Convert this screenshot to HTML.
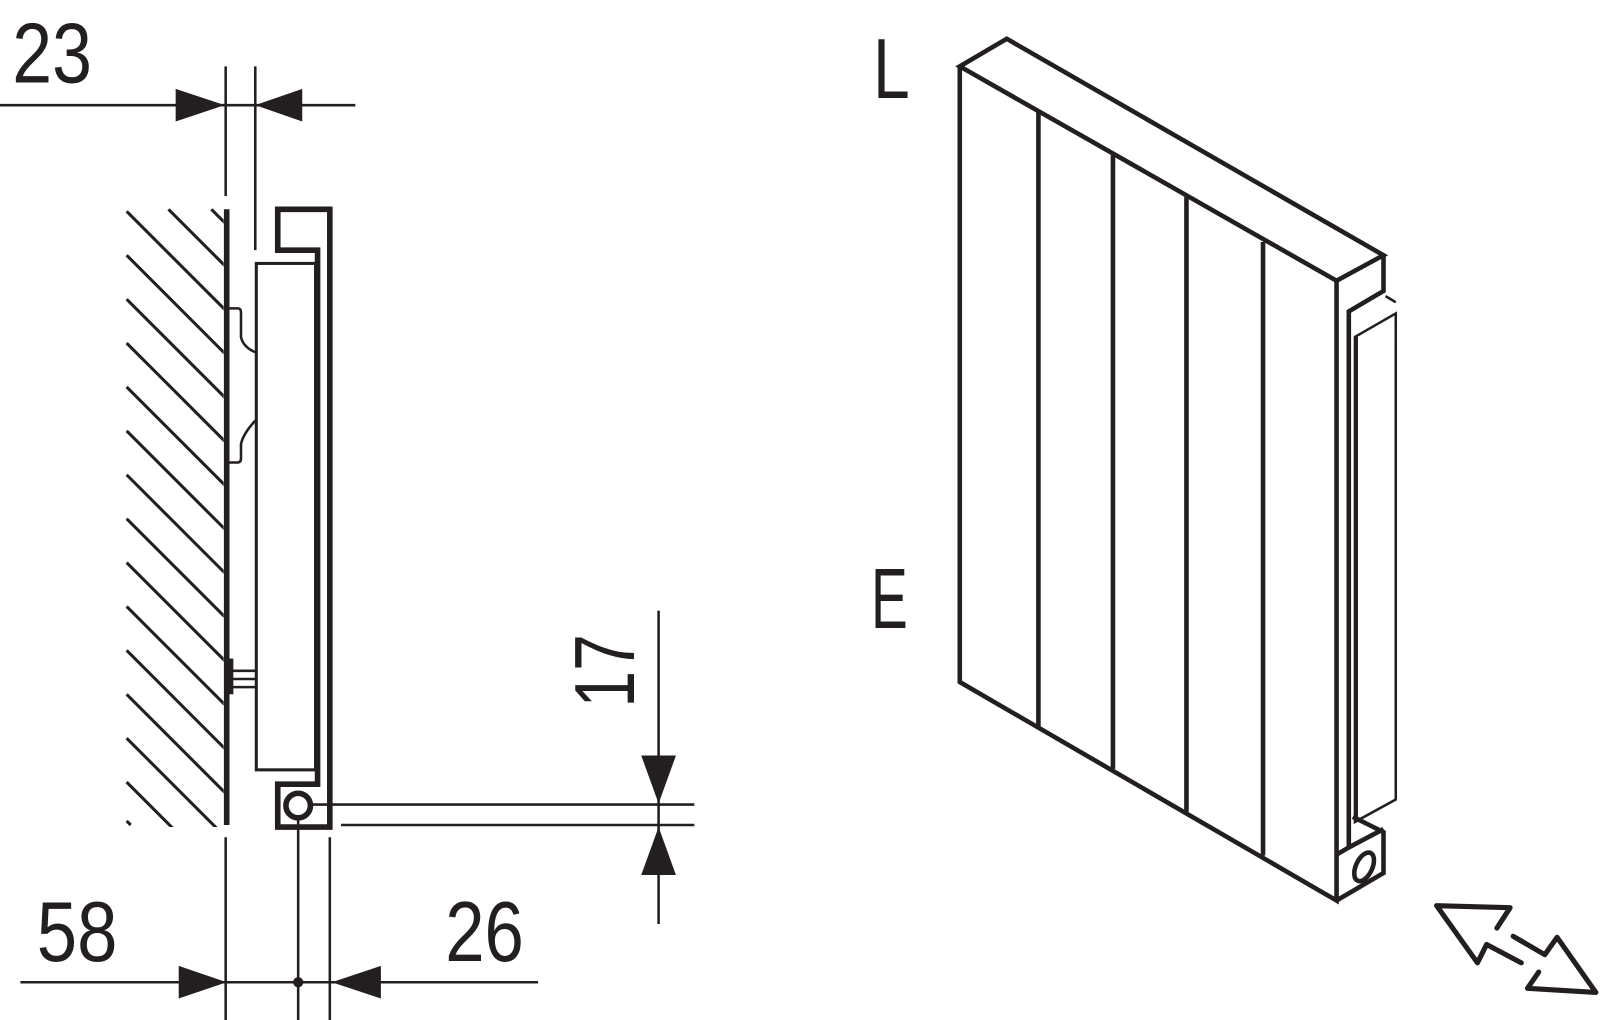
<!DOCTYPE html>
<html><head><style>html,body{margin:0;padding:0;background:#fff}svg{display:block}</style></head>
<body>
<svg width="1600" height="1020" viewBox="0 0 1567 999" xmlns="http://www.w3.org/2000/svg">
<defs><clipPath id="hc"><rect x="120" y="204" width="99" height="606"/></clipPath></defs>
<g fill="none" stroke="#231f20" stroke-linecap="butt" stroke-linejoin="miter">
<g clip-path="url(#hc)" stroke-width="3">
<line x1="124" y1="207" x2="224" y2="307"/><line x1="124" y1="250" x2="224" y2="350"/>
<line x1="124" y1="293" x2="224" y2="393"/><line x1="124" y1="336" x2="224" y2="436"/>
<line x1="124" y1="379" x2="224" y2="479"/><line x1="124" y1="422" x2="224" y2="522"/>
<line x1="124" y1="465" x2="224" y2="565"/><line x1="124" y1="508" x2="224" y2="608"/>
<line x1="124" y1="551" x2="224" y2="651"/><line x1="124" y1="594" x2="224" y2="694"/>
<line x1="124" y1="637" x2="224" y2="737"/><line x1="124" y1="680" x2="224" y2="780"/>
<line x1="124" y1="723" x2="224" y2="823"/><line x1="124" y1="766" x2="224" y2="866"/>
<line x1="165" y1="205" x2="224" y2="264"/><line x1="207" y1="205" x2="224" y2="222"/>
<line x1="124" y1="804" x2="128" y2="808"/>
</g>
<line x1="222" y1="205" x2="222" y2="808" stroke-width="5.5"/>
<line x1="221" y1="65" x2="221" y2="192" stroke-width="2.5"/>
<line x1="250" y1="65" x2="250" y2="245" stroke-width="2.5"/>
<line x1="0" y1="103" x2="348" y2="103" stroke-width="2.5"/>
<path d="M272,205 H323 V810 H272 V768 H311 V245 H272 Z" stroke-width="5.5"/>
<rect x="251" y="258" width="58" height="496" stroke-width="3"/>
<path d="M223,302 H233 Q236,302 236,306 V330 Q238,340 250,345" stroke-width="2.5"/>
<path d="M250,412 Q238,425 236,435 V449 Q236,453 232,453 H223" stroke-width="2.5"/>
<line x1="223" y1="657" x2="250" y2="657" stroke-width="2.5"/>
<line x1="223" y1="665" x2="250" y2="665" stroke-width="2.5"/>
<line x1="223" y1="673" x2="250" y2="673" stroke-width="2.5"/>
<line x1="226" y1="645" x2="226" y2="680" stroke-width="5"/>
<circle cx="292" cy="789" r="12" stroke-width="5.5"/>
<line x1="305" y1="788" x2="680" y2="788" stroke-width="2.5"/>
<line x1="334" y1="808" x2="680" y2="808" stroke-width="2.5"/>
<line x1="221" y1="820" x2="221" y2="999" stroke-width="2.5"/>
<line x1="292" y1="801" x2="292" y2="999" stroke-width="2.5"/>
<line x1="323" y1="820" x2="323" y2="999" stroke-width="2.5"/>
<line x1="20" y1="962" x2="527" y2="962" stroke-width="2.5"/>
<line x1="645" y1="598" x2="645" y2="905" stroke-width="2.5"/>
<g stroke-width="4.5">
<path d="M940,65 L986,38 L1355,250 L1309,275 L940,65 Z"/>
<path d="M940,65 V668 L1309,882 V275"/>
<line x1="1017" y1="110" x2="1017" y2="712"/>
<line x1="1090" y1="152" x2="1090" y2="753"/>
<line x1="1162" y1="193" x2="1162" y2="795"/>
<line x1="1237" y1="237" x2="1237" y2="838"/>
<path d="M1355,250 V285 L1321,305 V830 L1309,837"/>
<path d="M1309,882 L1355,855 V815 L1325,800"/>
<path d="M1321,830 L1355,812"/>
</g>
<path d="M1357,290 L1367,296" stroke-width="2.5"/>
<path d="M1327,330 L1367,307 V783 L1327,805 Z" stroke-width="2.5"/>
<line x1="1329" y1="330" x2="1329" y2="805" stroke-width="2"/>
<ellipse cx="1336" cy="849" rx="8" ry="15" transform="rotate(25 1336 849)" stroke-width="4.5"/>
<g stroke-width="5" stroke-linecap="round" stroke-linejoin="round">
<polyline points="1466,909 1479,889 1407,887 1447,943 1456,925 1490,943"/>
<polyline points="1482,917 1513,935 1525,918 1563,972 1496,968 1507,952"/>
</g>
</g>
<g fill="#231f20">
<polygon points="172,87 220,103 172,119"/>
<polygon points="296,87 250,103 296,119"/>
<polygon points="175,946 222,962 175,978"/>
<polygon points="373,946 325,962 373,978"/>
<polygon points="628,740 662,740 645,787"/>
<polygon points="628,857 662,857 645,810"/>
<circle cx="292" cy="962" r="5"/>
</g>
<g font-family="Liberation Sans, sans-serif" fill="#231f20">
<text x="12" y="81" font-size="84" textLength="78" lengthAdjust="spacingAndGlyphs">23</text>
<text x="36" y="941" font-size="84" textLength="79" lengthAdjust="spacingAndGlyphs">58</text>
<text x="436" y="941" font-size="84" textLength="77" lengthAdjust="spacingAndGlyphs">26</text>
<text transform="translate(621,693) rotate(-90)" font-size="84" textLength="72" lengthAdjust="spacingAndGlyphs">17</text>
<text x="855" y="96" font-size="84" textLength="36" lengthAdjust="spacingAndGlyphs">L</text>
<text x="853" y="615" font-size="84" textLength="36" lengthAdjust="spacingAndGlyphs">E</text>
</g>
</svg>
</body></html>
